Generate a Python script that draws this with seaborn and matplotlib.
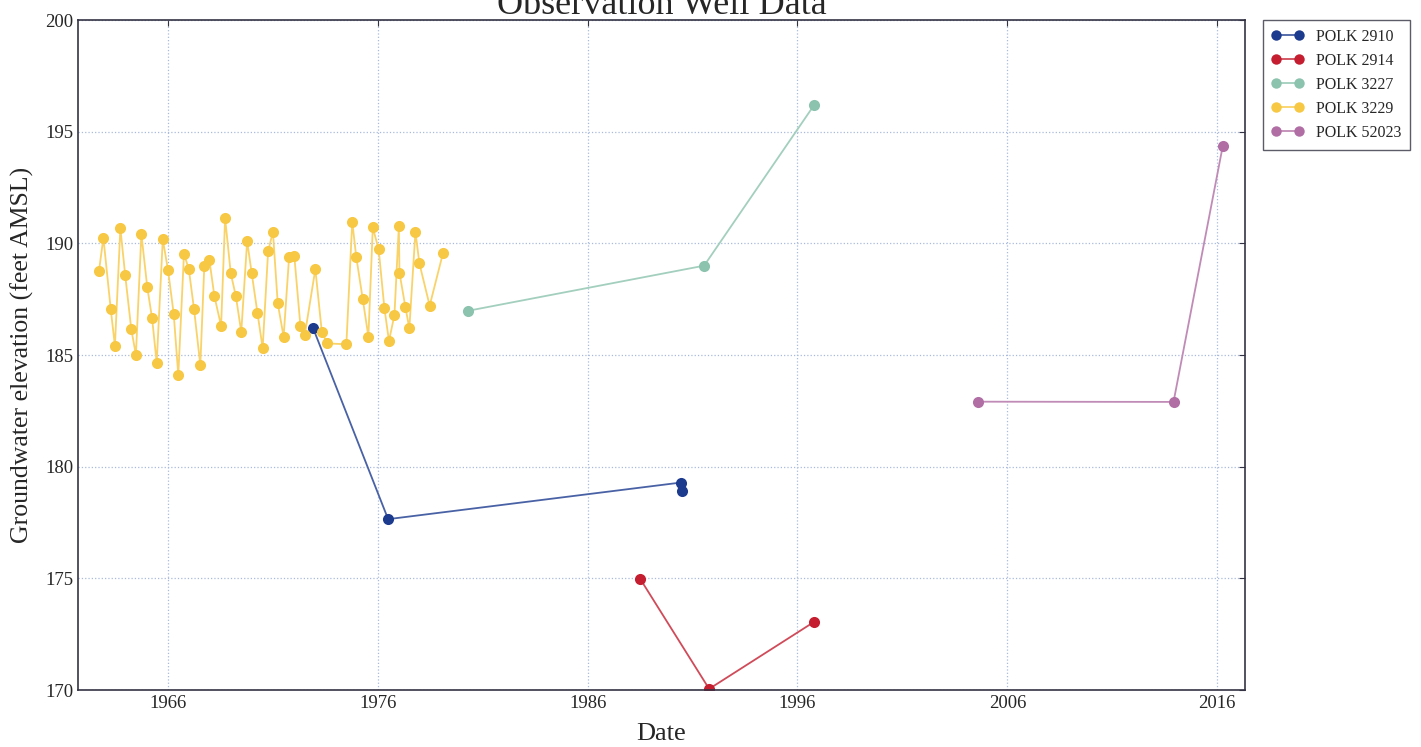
import pandas as pd
import matplotlib
matplotlib.use("Agg")
import matplotlib.pyplot as plt
import matplotlib.dates as mdates
import seaborn as sns

# Observation well readings (decimal year, elevation in feet AMSL)
polk_2910_t = [1972.91, 1976.49, 1990.45, 1990.50]
polk_2910_v = [186.21, 177.65, 179.29, 178.93]

polk_2914_t = [1988.50, 1991.79, 1996.79]
polk_2914_v = [174.98, 170.05, 173.05]

polk_3227_t = [1980.30, 1991.55, 1996.79]
polk_3227_v = [186.98, 189.00, 196.19]

polk_3229_t = [1962.71, 1962.92, 1963.27, 1963.47, 1963.73, 1963.96, 1964.25, 1964.47,
               1964.73, 1965.01, 1965.24, 1965.46, 1965.75, 1966.00, 1966.27, 1966.49,
               1966.76, 1966.99, 1967.24, 1967.54, 1967.73, 1967.97, 1968.21, 1968.53,
               1968.72, 1968.99, 1969.23, 1969.49, 1969.77, 1969.99, 1970.26, 1970.51,
               1970.77, 1971.00, 1971.23, 1971.51, 1971.77, 1972.02, 1972.31, 1972.52,
               1973.02, 1973.33, 1973.59, 1974.50, 1974.78, 1974.97, 1975.28, 1975.55,
               1975.76, 1976.04, 1976.31, 1976.53, 1976.79, 1977.00, 1977.03, 1977.31,
               1977.50, 1977.79, 1977.98, 1978.47, 1979.11]
polk_3229_v = [188.76, 190.25, 187.06, 185.41, 190.67, 188.58, 186.15, 185.01,
               190.42, 188.03, 186.65, 184.65, 190.18, 188.80, 186.85, 184.09,
               189.53, 188.85, 187.06, 184.55, 188.98, 189.27, 187.64, 186.30,
               191.13, 188.65, 187.65, 186.03, 190.10, 188.65, 186.90, 185.31,
               189.64, 190.52, 187.31, 185.82, 189.37, 189.43, 186.30, 185.91,
               188.85, 186.03, 185.52, 185.48, 190.97, 189.40, 187.51, 185.82,
               190.71, 189.73, 187.12, 185.63, 186.79, 190.77, 188.68, 187.16,
               186.19, 190.51, 189.10, 187.21, 189.58]

polk_52023_t = [2004.62, 2013.92, 2016.27]
polk_52023_v = [182.91, 182.90, 194.37]

wells = ["POLK 2910", "POLK 2914", "POLK 3227", "POLK 3229", "POLK 52023"]
colors = ["#1c3a8e", "#c41e30", "#8cc3ae", "#f7c843", "#b06ea4"]
tick_years = [1966, 1976, 1986, 1996, 2006, 2016]


def decimal_year_to_date(y):
    year = int(y)
    start = pd.Timestamp(year=year, month=1, day=1)
    end = pd.Timestamp(year=year + 1, month=1, day=1)
    return start + (end - start) * (y - year)


frames = []
for name, t, v in zip(wells,
                      [polk_2910_t, polk_2914_t, polk_3227_t, polk_3229_t, polk_52023_t],
                      [polk_2910_v, polk_2914_v, polk_3227_v, polk_3229_v, polk_52023_v]):
    frames.append(pd.DataFrame({"Date": [decimal_year_to_date(x) for x in t],
                                "Elevation": v, "Well": name}))
data = pd.concat(frames, ignore_index=True)

sns.set_style("white")
plt.rcParams["font.family"] = ["Liberation Serif", "DejaVu Serif"]

fig = plt.figure(figsize=(14.21, 7.47), dpi=100)
ax = fig.add_axes([0.0549, 0.0763, 0.8213, 0.8969])

sns.lineplot(data=data, x="Date", y="Elevation", hue="Well", hue_order=wells,
             palette=colors, marker="o", markersize=8, markeredgewidth=0,
             linewidth=1.3, sort=False, estimator=None, ax=ax)

# lines a touch lighter than the markers, as in the original
for line in ax.get_lines():
    c = line.get_color()
    line.set_markerfacecolor(c)
    line.set_markeredgecolor(c)
    rgb = matplotlib.colors.to_rgb(c)
    line.set_color(tuple(0.8 * x + 0.2 for x in rgb))

ax.set_ylim(170, 200)
ax.set_xlim(decimal_year_to_date(1961.71), decimal_year_to_date(2017.33))
ax.set_yticks(range(170, 201, 5))
ax.set_xticks([pd.Timestamp(year=y, month=1, day=1) for y in tick_years])
ax.xaxis.set_major_formatter(mdates.DateFormatter("%Y"))

ax.grid(True, color="#a9bbdc", linestyle=":", linewidth=0.9)
ax.tick_params(direction="in", length=4, labelsize=13.5, top=True, right=True,
               color="#333344")
for s in ax.spines.values():
    s.set_color("#333344")
    s.set_linewidth(1.2)

ax.set_title("Observation Well Data", fontsize=26, pad=4)
ax.set_xlabel("Date", fontsize=19, labelpad=8)
ax.set_ylabel("Groundwater elevation (feet AMSL)", fontsize=18.5, labelpad=8)

leg = ax.legend(loc="upper left", bbox_to_anchor=(1.015, 1.0), fontsize=11.5,
                frameon=True, fancybox=False, numpoints=2, borderaxespad=0,
                handlelength=2.0, labelspacing=0.5, borderpad=0.55)
leg.get_frame().set_edgecolor("#333344")
leg.get_frame().set_linewidth(1.0)
for h in leg.get_lines():
    h.set_marker("o")
    h.set_markersize(7.5)

fig.savefig("out.png", dpi=100)
